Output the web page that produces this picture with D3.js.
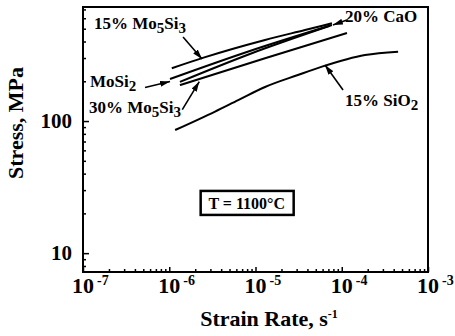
<!DOCTYPE html>
<html>
<head>
<meta charset="utf-8">
<script src="https://cdn.jsdelivr.net/npm/d3@7"></script>
<style>
  body { margin: 0; background: #fff; }
  text { font-family: "Liberation Serif", "Times New Roman", serif; font-weight: bold; fill: #000; }
</style>
</head>
<body>
<div id="chart"></div>
<script>
// strain rate (1/s) vs stress (MPa)
var mosi2 = [[1.02e-6, 208], [8.6e-6, 339], [7.7e-5, 533]];
var cao20 = [[1.33e-6, 198], [8.6e-6, 322], [7.3e-5, 526]];
var mo5si3_15 = [[1.07e-6, 251], [2.5e-6, 302], [1.29e-5, 411], [3.75e-5, 489], [7.7e-5, 550]];
var mo5si3_30 = [[1.33e-6, 187], [1.29e-5, 299], [1.15e-4, 464]];
var sio2_15 = [[1.17e-6, 85.5], [3.4e-6, 118], [6.3e-6, 144], [1.29e-5, 181], [3.1e-5, 223],
  [5.9e-5, 258], [1.86e-4, 316], [4.5e-4, 335]];

var xMajor = [1e-7, 1e-6, 1e-5, 1e-4, 1e-3];
var xExp = ["-7", "-6", "-5", "-4", "-3"];
var yMajor = [10, 100];

var width = 455, height = 336,
  margin = {top: 7, right: 27, bottom: 64, left: 83},
  w = width - margin.left - margin.right,
  h = height - margin.top - margin.bottom;

var svg = d3.select("#chart").append("svg")
  .attr("width", width)
  .attr("height", height);

var g = svg.append("g")
  .attr("transform", "translate(" + margin.left + "," + margin.top + ")");

var x = d3.scaleLog().domain([1e-7, 1e-3]).range([0, w]);
var y = d3.scaleLog().domain([7.2, 730]).range([h, 0]);

// ticks point inward, minor ones shorter
var xMinor = x.ticks().filter(function (d) { return xMajor.indexOf(d) < 0; });
var yMinor = y.ticks().filter(function (d) { return yMajor.indexOf(d) < 0; });

function strip(sel) {
  sel.select(".domain").remove();
  sel.selectAll("text").remove();
  sel.selectAll("line").attr("stroke", "#000").attr("stroke-width", 1.5);
}

g.append("g").attr("transform", "translate(0," + h + ")")
  .call(d3.axisBottom(x).tickValues(xMinor).tickSize(-3)).call(strip);
g.append("g").attr("transform", "translate(0," + h + ")")
  .call(d3.axisBottom(x).tickValues(xMajor).tickSize(-5)).call(strip);
g.append("g")
  .call(d3.axisLeft(y).tickValues(yMinor).tickSize(-3)).call(strip);
g.append("g")
  .call(d3.axisLeft(y).tickValues(yMajor).tickSize(-6)).call(strip);

g.append("rect")
  .attr("width", w).attr("height", h)
  .attr("fill", "none").attr("stroke", "#000").attr("stroke-width", 2);

// x tick labels: "10" centred on the tick, exponent raised after it
xMajor.forEach(function (d, i) {
  var t = g.append("text")
    .attr("y", h + 21)
    .style("font-size", "22px");
  var base = t.append("tspan").text("10");
  var half = base.node().getComputedTextLength() / 2;
  t.attr("x", x(d) - half);
  t.append("tspan").attr("dx", 3).attr("dy", -8).style("font-size", "14px").text(xExp[i]);
});

g.selectAll(".ylab").data(yMajor).enter().append("text")
  .attr("x", -11)
  .attr("y", function (d) { return y(d) + 7; })
  .attr("text-anchor", "end")
  .style("font-size", "21px")
  .text(function (d) { return d; });

// axis titles
var xt = svg.append("text")
  .attr("x", 269).attr("y", 326)
  .attr("text-anchor", "middle")
  .style("font-size", "22px");
xt.append("tspan").text("Strain Rate, s");
xt.append("tspan").attr("dy", -8).style("font-size", "12px").text("-1");

svg.append("text")
  .attr("transform", "translate(23,123) rotate(-90)")
  .attr("text-anchor", "middle")
  .style("font-size", "22px")
  .text("Stress, MPa");

// curves
var line = d3.line()
  .x(function (d) { return x(d[0]); })
  .y(function (d) { return y(d[1]); })
  .curve(d3.curveMonotoneX);

[mo5si3_15, mosi2, cao20, mo5si3_30, sio2_15].forEach(function (s) {
  g.append("path")
    .datum(s)
    .attr("d", line)
    .attr("fill", "none")
    .attr("stroke", "#000")
    .attr("stroke-width", 2);
});

// labels with arrows; tip sits on the curve, tail is a pixel offset
svg.append("defs").append("marker")
  .attr("id", "head")
  .attr("viewBox", "0 0 10 6")
  .attr("refX", 10).attr("refY", 3)
  .attr("markerWidth", 10).attr("markerHeight", 6)
  .attr("markerUnits", "userSpaceOnUse")
  .attr("orient", "auto")
  .append("path").attr("d", "M0,0L10,3L0,6Z").attr("fill", "#000");

var notes = [
  {tip: [2.4e-6, 295], tail: [-19, -22], tx: 94, ty: 29, parts: ["15% Mo", "5", "Si", "3"]},
  {tip: [1.02e-6, 199], tail: [-25, 6], tx: 90, ty: 87, parts: ["MoSi", "2"]},
  {tip: [2.23e-6, 199], tail: [-17, 28], tx: 89, ty: 113, parts: ["30% Mo", "5", "Si", "3"]},
  {tip: [7.9e-5, 533], tail: [14, -5], tx: 345, ty: 22, parts: ["20% CaO"]},
  {tip: [6.4e-5, 266], tail: [18, 25], tx: 345, ty: 106, parts: ["15% SiO", "2"]}
];

notes.forEach(function (n) {
  var px = margin.left + x(n.tip[0]), py = margin.top + y(n.tip[1]);
  svg.append("line")
    .attr("x1", px + n.tail[0]).attr("y1", py + n.tail[1])
    .attr("x2", px).attr("y2", py)
    .attr("stroke", "#000").attr("stroke-width", 1.6)
    .attr("marker-end", "url(#head)");
  var t = svg.append("text").attr("x", n.tx).attr("y", n.ty).style("font-size", "17px");
  n.parts.forEach(function (p, i) {
    var sub = i % 2 === 1;
    t.append("tspan")
      .attr("dy", i === 0 ? 0 : (sub ? 4 : -4))
      .style("font-size", sub ? "15px" : "17px")
      .text(p);
  });
});

// temperature box
var bx = margin.left + x(7.9e-6), by = margin.top + y(24);
svg.append("rect")
  .attr("x", bx - 46).attr("y", by - 12)
  .attr("width", 93).attr("height", 24)
  .attr("fill", "#fff").attr("stroke", "#000").attr("stroke-width", 2.5);
svg.append("text")
  .attr("x", bx).attr("y", by + 6)
  .attr("text-anchor", "middle")
  .style("font-size", "16px")
  .text("T = 1100°C");
</script>
</body>
</html>
